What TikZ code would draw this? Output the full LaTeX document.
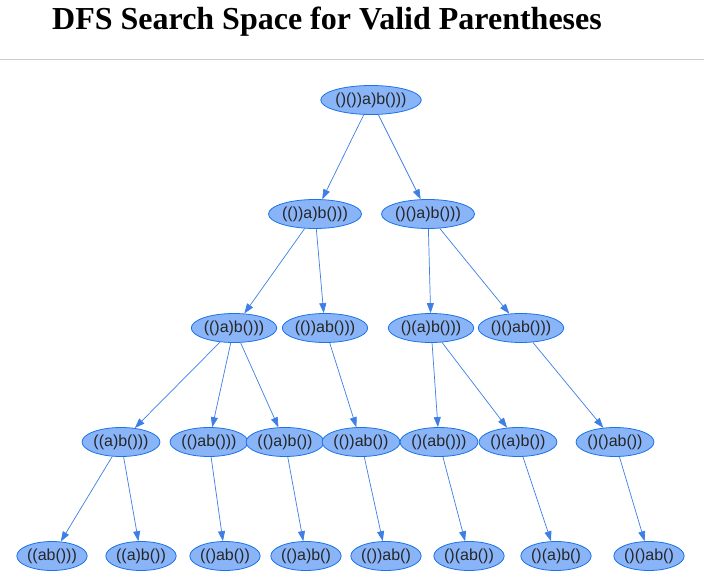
\documentclass[tikz,border=0pt]{standalone}
\usepackage{fontspec}
\setmainfont{Liberation Serif}
\newfontfamily\nodefont{Liberation Sans}
\usetikzlibrary{shapes.geometric,arrows.meta}
\definecolor{nodefill}{HTML}{8AB4F8}
\definecolor{nodeline}{HTML}{1A73E8}
\definecolor{edgeblue}{HTML}{3D7FE6}
\definecolor{rulegray}{HTML}{CCCCCC}
\begin{document}
\begin{tikzpicture}[x=1pt, y=-1pt,
  state/.style={ellipse, draw=nodeline, fill=nodefill, line width=0.8pt,
    inner xsep=0pt, inner ysep=1pt, minimum height=29pt, text=black!85,
    font=\nodefont\fontsize{16}{18}\selectfont},
  edge/.style={draw=edgeblue, line width=0.7pt, -{Triangle[length=10pt,width=7pt]}}]
  \useasboundingbox (0,0) rectangle (704,588);
  \fill[white] (0,0) rectangle (704,588);
  \node[font=\bfseries\fontsize{32}{36}\selectfont] (title) at (327,22) {DFS Search Space for Valid Parentheses};
  \draw[rulegray, line width=0.8pt] (0,59) -- (704,59);
  % level 0
  \node[state] (r) at (371,100) {()())a)b()))};
  % level 1
  \node[state] (a) at (315,214) {(())a)b()))};
  \node[state] (b) at (428,214) {()()a)b()))};
  % level 2
  \node[state] (aa) at (234,328) {(()a)b()))};
  \node[state] (ab) at (325,328) {(())ab()))};
  \node[state] (ba) at (431,328) {()(a)b()))};
  \node[state] (bb) at (521,328) {()()ab()))};
  % level 3
  \node[state] (aaa) at (121,442) {((a)b()))};
  \node[state] (aab) at (209,442) {(()ab()))};
  \node[state] (aac) at (285,442) {(()a)b())};
  \node[state] (aba) at (361,442) {(())ab())};
  \node[state] (baa) at (439,442) {()(ab()))};
  \node[state] (bab) at (518,442) {()(a)b())};
  \node[state] (bba) at (615,442) {()()ab())};
  % level 4
  \node[state] (l1) at (52,556) {((ab()))};
  \node[state] (l2) at (141,556) {((a)b())};
  \node[state] (l3) at (225,556) {(()ab())};
  \node[state] (l4) at (306,556) {(()a)b()};
  \node[state] (l5) at (386,556) {(())ab()};
  \node[state] (l6) at (469,556) {()(ab())};
  \node[state] (l7) at (556,556) {()(a)b()};
  \node[state] (l8) at (649,556) {()()ab()};
  % edges
  \foreach \s/\t in {r/a, r/b, a/aa, a/ab, b/ba, b/bb,
      aa/aaa, aa/aab, aa/aac, ab/aba, ba/baa, ba/bab, bb/bba,
      aaa/l1, aaa/l2, aab/l3, aac/l4, aba/l5, baa/l6, bab/l7, bba/l8}
    \draw[edge] (\s) -- (\t);
\end{tikzpicture}
\end{document}
